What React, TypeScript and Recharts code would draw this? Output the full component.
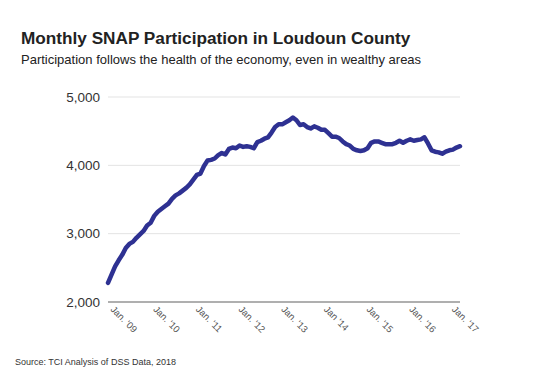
import React from 'react';
import { LineChart, Line, XAxis, YAxis, CartesianGrid } from 'recharts';

// monthly participants, Jan 2009 .. Apr 2017
const participants: number[] = [
  2280, 2400, 2520, 2610, 2690, 2790, 2850, 2880, 2940, 2990,
  3040, 3120, 3160, 3260, 3320, 3360, 3400, 3440, 3510, 3560,
  3590, 3630, 3670, 3720, 3790, 3860, 3880, 3990, 4070, 4080,
  4100, 4150, 4180, 4160, 4240, 4260, 4250, 4290, 4270, 4280,
  4270, 4250, 4340, 4360, 4390, 4410, 4480, 4560, 4600, 4600,
  4630, 4660, 4700, 4660, 4590, 4600, 4560, 4540, 4570, 4550,
  4520, 4520, 4470, 4420, 4420, 4400, 4350, 4310, 4290, 4240,
  4220, 4210, 4220, 4250, 4330, 4350, 4350, 4330, 4310, 4310,
  4310, 4330, 4360, 4330, 4360, 4380, 4360, 4370, 4380, 4410,
  4320, 4220, 4200, 4190, 4170, 4200, 4220, 4230, 4260, 4280,
];

const yearTicks = [0, 12, 24, 36, 48, 60, 72, 84, 96];
const yearLabels = ["Jan. '09", "Jan. '10", "Jan. '11", "Jan. '12", "Jan. '13", "Jan '14", "Jan. '15", "Jan. '16", "Jan. '17"];
const valueTicks = [2000, 3000, 4000, 5000];

const FONT = 'Arial, "Liberation Sans", sans-serif';

const data = participants.map((v, i) => ({ i, value: v }));

const YearTick = (props: any) => {
  const { x, y, payload } = props;
  const idx = yearTicks.indexOf(payload.value);
  const tx = x + 2;
  const ty = y;
  return (
    <text
      x={tx}
      y={ty}
      transform={`rotate(45, ${tx}, ${ty})`}
      textAnchor="start"
      fontSize={9.5}
      fill="#555"
      fontFamily={FONT}
    >
      {yearLabels[idx]}
    </text>
  );
};

export default function App() {
  return (
    <div style={{ position: 'absolute', left: 0, top: 0, width: 540, height: 383, background: '#fff', fontFamily: FONT }}>
      <div style={{ position: 'absolute', left: 21, top: 30, fontSize: 17.2, lineHeight: '17px', fontWeight: 'bold', color: '#222', whiteSpace: 'nowrap' }}>
        Monthly SNAP Participation in Loudoun County
      </div>
      <div style={{ position: 'absolute', left: 21, top: 53, fontSize: 13, lineHeight: '13px', color: '#222', whiteSpace: 'nowrap' }}>
        Participation follows the health of the economy, even in wealthy areas
      </div>
      <div style={{ position: 'absolute', left: 15, top: 358, fontSize: 9, lineHeight: '9px', color: '#333', whiteSpace: 'nowrap' }}>
        Source: TCI Analysis of DSS Data, 2018
      </div>
      <div style={{ position: 'absolute', left: 0, top: 0 }}>
        <LineChart width={540} height={383} data={data} margin={{ top: 97, right: 80, bottom: 21, left: 58 }}>
          <CartesianGrid vertical={false} stroke="#e3e3e3" strokeWidth={1} />
          <XAxis
            dataKey="i"
            type="number"
            domain={[0, 99]}
            ticks={yearTicks}
            tick={<YearTick />}
            tickLine={false}
            axisLine={{ stroke: '#999', strokeWidth: 1.5 }}
            height={60}
            interval={0}
          />
          <YAxis
            domain={[2000, 5000]}
            ticks={valueTicks}
            width={50}
            axisLine={false}
            tickLine={false}
            tickFormatter={(v: number) => v.toLocaleString('en-US')}
            tick={{ fontSize: 13.5, fill: '#333', fontFamily: FONT }}
          />
          <Line
            type="linear"
            dataKey="value"
            stroke="#2e3192"
            strokeWidth={4.5}
            strokeLinejoin="round"
            strokeLinecap="round"
            dot={false}
            isAnimationActive={false}
          />
        </LineChart>
      </div>
    </div>
  );
}
